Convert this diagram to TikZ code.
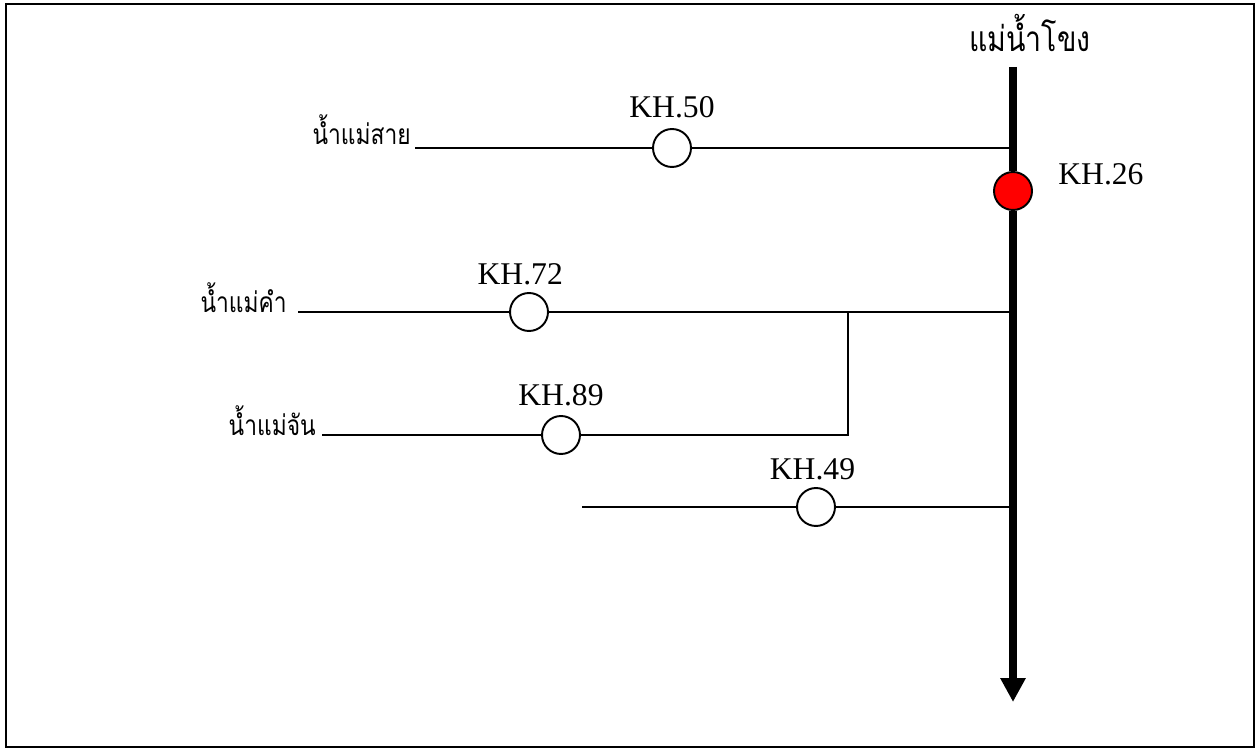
\documentclass[tikz,border=0pt]{standalone}
\usepackage{fontspec}
\usepackage{graphicx}
\setmainfont{Liberation Serif}
\newfontfamily\thaifont[Script=Thai]{Loma}
\newcommand{\narrowthai}[1]{\scalebox{0.81}[1]{#1}}
\usetikzlibrary{positioning, arrows.meta}

\begin{document}
\begin{tikzpicture}[
        x=0.02cm, y=-0.02cm,
        station/.style={circle, draw, line width=1.1pt, fill=white, minimum size=0.76cm, inner sep=0pt},
        stlabel/.style={font=\fontsize{18}{21}\selectfont, inner sep=0pt},
        rivername/.style={font=\thaifont\fontsize{16}{20}\selectfont, inner sep=0pt},
        stream/.style={line width=1.1pt},
        mekong/.style={line width=0.16cm, -{Triangle[length=0.48cm, width=0.48cm]}}
    ]
    \useasboundingbox (0,0) rectangle (1258,749);
    \draw[line width=1.1pt] (6,4) rectangle (1254,747);

    % stations
    \node[station, fill=red] (kh26) at (1013,191) {};
    \node[station] (kh50) at (672,148) {};
    \node[station] (kh72) at (529,312) {};
    \node[station] (kh89) at (561,435) {};
    \node[station] (kh49) at (816,507) {};

    % free ends and junctions
    \coordinate (mtop) at (1013,67);
    \coordinate (mend) at (1013,702);
    \coordinate (sai) at (415,148);
    \coordinate (kham) at (298,312);
    \coordinate (chan) at (322,435);
    \coordinate (w49) at (582,507);
    \coordinate (j50) at (1013,148);
    \coordinate (j72) at (1013,312);
    \coordinate (j49) at (1013,507);
    \coordinate (jchan) at (848,312);
    \coordinate (bend) at (848,435);

    % tributaries
    \draw[stream] (sai) -- (kh50) -- (j50);
    \draw[stream] (kham) -- (kh72) -- (j72);
    \draw[stream] (chan) -- (kh89) -- (bend) -- (jchan);
    \draw[stream] (w49) -- (kh49) -- (j49);

    % Mekong itself, on top of the joins
    \draw[line width=0.16cm] (mtop) -- (kh26);
    \draw[mekong] (kh26) -- (mend);

    % names
    \node[stlabel, above=0.2cm of kh50] {KH.50};
    \node[stlabel, above=0.13cm of kh72, xshift=-5] {KH.72};
    \node[stlabel, above=0.17cm of kh89] {KH.89};
    \node[stlabel, above=0.13cm of kh49, xshift=-2] {KH.49};
    \node[stlabel, anchor=base west] at (1058,185) {KH.26};

    \node[rivername, anchor=base east] at (411,145) {\narrowthai{น้ำแม่สาย}};
    \node[rivername, anchor=base east] at (287,313) {\narrowthai{น้ำแม่คำ}};
    \node[rivername, anchor=base east] at (316,436) {\narrowthai{น้ำแม่จัน}};
    \node[rivername, font=\thaifont\fontsize{20}{24}\selectfont, anchor=base] at (1030,52) {\narrowthai{แม่น้ำโขง}};
\end{tikzpicture}
\end{document}
